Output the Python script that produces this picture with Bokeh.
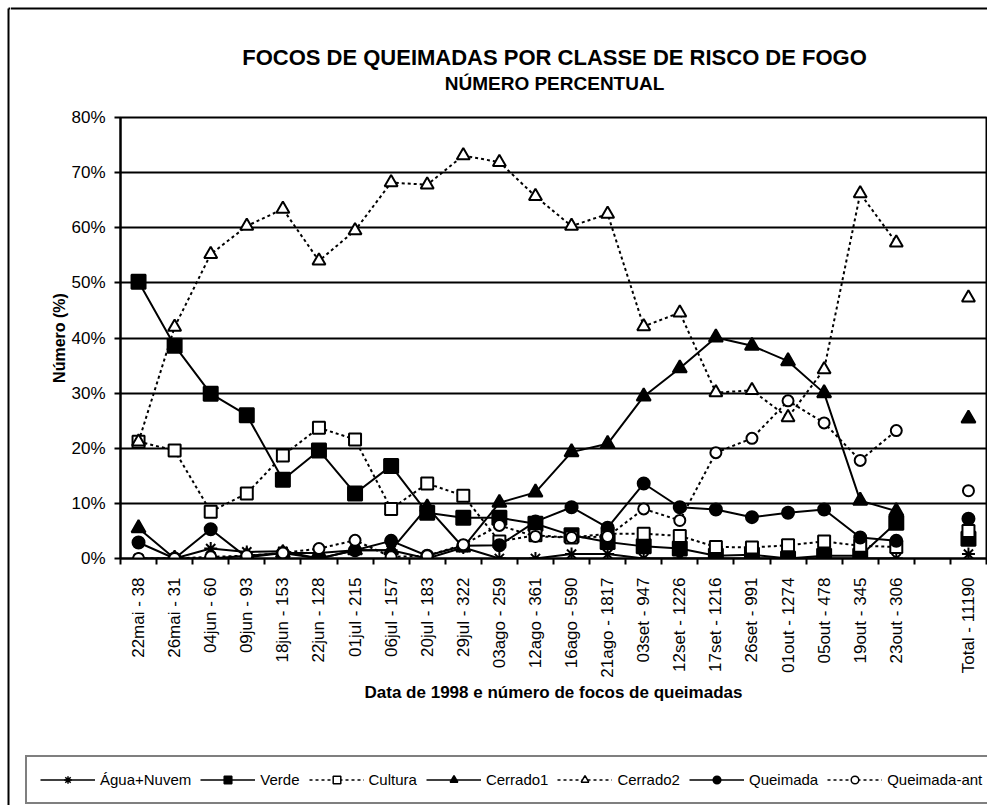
import math
from bokeh.plotting import figure
from bokeh.layouts import column, row
from bokeh.models import (Range1d, FixedTicker, Label, Legend, LegendItem, Span,
                          ColumnDataSource, PrintfTickFormatter)
from bokeh.embed import file_html
from bokeh.resources import INLINE

# ---------------- data ----------------
categories = ["22mai - 38", "26mai - 31", "04jun - 60", "09jun - 93", "18jun - 153",
              "22jun - 128", "01jul - 215", "06jul - 157", "20jul - 183", "29jul - 322",
              "03ago - 259", "12ago - 361", "16ago - 590", "21ago - 1817", "03set - 947",
              "12set - 1226", "17set - 1216", "26set - 991", "01out - 1274", "05out - 478",
              "19out - 345", "23out - 306", "", "Total - 11190"]

agua_nuvem = [0, 0, 1.8, 1.2, 1.3, 0, 1.5, 1.5, 0, 2.0, 0, 0, 0.8, 0.8, 0, 0,
              0, 0, 0, 0, 0, 0, None, 0.8]
verde = [50.2, 38.6, 29.9, 26.0, 14.3, 19.6, 11.8, 16.8, 8.3, 7.4, 7.4, 6.3, 4.2,
         3.0, 2.2, 1.8, 0.5, 0.7, 0, 0.5, 0.5, 6.5, None, 3.6]
cultura = [21.2, 19.6, 8.5, 11.8, 18.7, 23.7, 21.6, 9.0, 13.6, 11.4, 3.1, 4.2, 3.8,
           4.5, 4.5, 4.1, 2.1, 2.0, 2.4, 3.1, 2.3, 2.1, None, 5.0]
cerrado1 = [5.5, 0, 0, 0.5, 1.0, 1.0, 1.5, 1.5, 9.3, 2.0, 10.1, 12.0, 19.3, 20.8,
            29.4, 34.5, 40.1, 38.6, 35.8, 30.0, 10.5, 8.6, None, 25.4]
cerrado2 = [21.2, 42.0, 55.2, 60.3, 63.4, 54.0, 59.5, 68.2, 67.8, 73.1, 71.9, 65.7,
            60.3, 62.5, 42.1, 44.6, 30.1, 30.5, 25.6, 34.3, 66.2, 57.3, None, 47.3]
queimada = [2.9, 0, 5.3, 0.2, 1.0, 0, 1.5, 3.2, 0.5, 2.3, 2.4, 6.7, 9.3, 5.6, 13.6,
            9.3, 8.9, 7.5, 8.3, 8.9, 3.8, 3.2, None, 7.2]
queimada_ant = [0, 0, 0.3, 0.5, 1.0, 1.8, 3.3, 0.3, 0.5, 2.5, 6.0, 4.0, 3.8, 4.0,
                9.0, 6.9, 19.2, 21.8, 28.6, 24.6, 17.8, 23.2, None, 12.3]

series_names = ["Água+Nuvem", "Verde", "Cultura", "Cerrado1", "Cerrado2",
                "Queimada", "Queimada-ant"]
series_values = [agua_nuvem, verde, cultura, cerrado1, cerrado2, queimada, queimada_ant]

title_text = "FOCOS DE QUEIMADAS POR CLASSE DE RISCO DE FOGO"
subtitle_text = "NÚMERO PERCENTUAL"
y_title = "Número (%)"
x_title = "Data de 1998 e número de focos de queimadas"

FONT = "Liberation Sans"
W, H = 987, 805
STRIP_W = 10
COL_W = W - STRIP_W
HEAD_H, MAIN_H = 100, 580
FOOT_H = H - HEAD_H - MAIN_H
BORDER = 8


def blank_fig(w, h, x0, y0):
    f = figure(width=w, height=h, output_backend="svg", toolbar_location=None,
               x_range=Range1d(x0, x0 + w), y_range=Range1d(y0 + h, y0),
               x_axis_location=None, y_axis_location=None, min_border=0,
               background_fill_color="white", border_fill_color="white",
               frame_align=False)
    f.outline_line_color = None
    f.xgrid.visible = False
    f.ygrid.visible = False
    return f


# ---------------- left strip (chart border) ----------------
strip = blank_fig(STRIP_W, H, 0, 0)
strip.segment(x0=[BORDER], y0=[BORDER], x1=[BORDER], y1=[H],
              line_color="black", line_width=2)
strip.segment(x0=[BORDER], y0=[BORDER], x1=[STRIP_W], y1=[BORDER],
              line_color="black", line_width=2)

# ---------------- header (titles) ----------------
head = blank_fig(COL_W, HEAD_H, STRIP_W, 0)
head.add_layout(Span(location=BORDER, dimension="width", line_color="black",
                     line_width=2))
head.add_layout(Label(x=554, y=57, text=title_text, text_align="center",
                      text_baseline="middle", text_font=FONT, text_font_size="22px",
                      text_font_style="bold", text_color="black"))
head.add_layout(Label(x=554, y=83, text=subtitle_text, text_align="center",
                      text_baseline="middle", text_font=FONT, text_font_size="19px",
                      text_font_style="bold", text_color="black"))

# ---------------- main plot ----------------
n = len(categories)
p = figure(width=COL_W, height=MAIN_H, output_backend="svg", toolbar_location=None,
           x_range=Range1d(0, n), y_range=Range1d(0, 80),
           min_border_left=120 - STRIP_W, min_border_right=1, min_border_top=17,
           min_border_bottom=122, background_fill_color="white",
           border_fill_color="white", frame_align=False)
p.outline_line_color = "black"
p.outline_line_width = 2

centers = [i + 0.5 for i in range(n)]
p.xaxis.ticker = FixedTicker(ticks=centers, minor_ticks=list(range(n + 1)))
p.xaxis.major_label_overrides = {c: lab for c, lab in zip(centers, categories)}
p.xaxis.major_label_orientation = math.pi / 2
p.xaxis.major_tick_out = 0
p.xaxis.major_tick_in = 0
p.xaxis.minor_tick_out = 6
p.xaxis.minor_tick_in = 0
p.xaxis.minor_tick_line_color = "black"
p.xaxis.minor_tick_line_width = 2
p.xaxis.major_label_standoff = 13

p.yaxis.ticker = FixedTicker(ticks=list(range(0, 81, 10)))
p.yaxis.formatter = PrintfTickFormatter(format="%d%%")
p.yaxis.major_tick_out = 6
p.yaxis.major_tick_in = 0
p.yaxis.minor_tick_line_color = None
p.yaxis.major_label_standoff = 9
p.yaxis.axis_label = y_title
p.yaxis.axis_label_text_font = FONT
p.yaxis.axis_label_text_font_size = "16px"
p.yaxis.axis_label_text_font_style = "bold"
p.yaxis.axis_label_text_color = "black"
p.yaxis.axis_label_standoff = 0

for ax in (p.xaxis[0], p.yaxis[0]):
    ax.axis_line_color = "black"
    ax.axis_line_width = 2
    ax.major_tick_line_color = "black"
    ax.major_tick_line_width = 2
    ax.major_label_text_font = FONT
    ax.major_label_text_font_size = "17px"
    ax.major_label_text_color = "black"

p.xgrid.grid_line_color = None
p.ygrid.ticker = FixedTicker(ticks=list(range(0, 81, 10)))
p.ygrid.grid_line_color = "black"
p.ygrid.grid_line_width = 2

styles = {
    "Água+Nuvem": dict(marker="asterisk", size=13, fill="black", dash="solid", lsize=10),
    "Verde": dict(marker="square", size=14, fill="black", dash="solid", lsize=7),
    "Cultura": dict(marker="square", size=12, fill="white", dash="3 3", lsize=7),
    "Cerrado1": dict(marker="triangle", size=14, fill="black", dash="solid", lsize=8),
    "Cerrado2": dict(marker="triangle", size=13, fill="white", dash="3 3", lsize=8),
    "Queimada": dict(marker="circle", size=12, fill="black", dash="solid", lsize=7),
    "Queimada-ant": dict(marker="circle", size=11, fill="white", dash="3 3", lsize=6),
}

n_dates = categories.index("")
for name, vals in zip(series_names, series_values):
    st = styles[name]
    line_src = ColumnDataSource(dict(x=centers[:n_dates], y=vals[:n_dates]))
    pts = [(c, v) for c, v in zip(centers, vals) if v is not None]
    pt_src = ColumnDataSource(dict(x=[a for a, _ in pts], y=[b for _, b in pts]))
    p.line("x", "y", source=line_src, line_color="black", line_width=2,
           line_dash=st["dash"])
    p.scatter("x", "y", source=pt_src, marker=st["marker"], size=st["size"],
              fill_color=st["fill"], line_color="black", line_width=2)

# ---------------- footer (x title + legend) ----------------
y_foot = HEAD_H + MAIN_H
foot = blank_fig(COL_W, FOOT_H, STRIP_W, y_foot)
foot.add_layout(Label(x=553, y=692, text=x_title, text_align="center",
                      text_baseline="middle", text_font=FONT, text_font_size="17px",
                      text_font_style="bold", text_color="black"))
items = []
for name in series_names:
    st = styles[name]
    proxy = ColumnDataSource(dict(x=[float("nan")], y=[float("nan")]))
    lr = foot.line("x", "y", source=proxy, line_color="black", line_width=1.5,
                   line_dash=st["dash"])
    sr = foot.scatter("x", "y", source=proxy, marker=st["marker"], size=st["lsize"],
                      fill_color=st["fill"], line_color="black", line_width=1.5)
    items.append(LegendItem(label=name, renderers=[lr, sr]))

legend = Legend(items=items, orientation="horizontal", location=(25 - STRIP_W, 1),
                border_line_color="black", border_line_width=2,
                background_fill_color="white", background_fill_alpha=1,
                label_text_font=FONT, label_text_font_size="15px",
                label_text_color="black",
                glyph_width=55, glyph_height=19, label_standoff=5, spacing=9,
                padding=13, margin=0, label_height=19)
foot.add_layout(legend)

layout = row(strip, column(head, p, foot, spacing=0), spacing=0)
open("out.html", "w").write(file_html(layout, INLINE))
